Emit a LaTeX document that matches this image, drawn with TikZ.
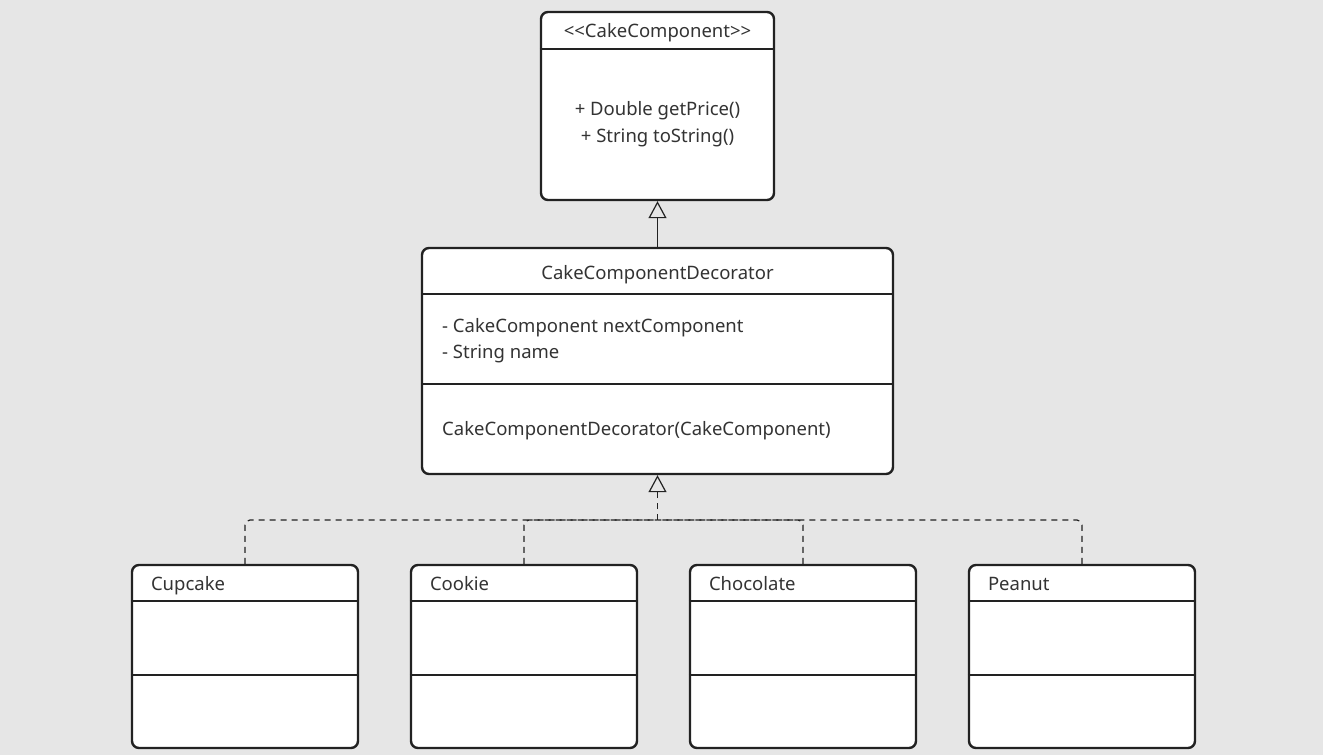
\documentclass[tikz,border=0pt]{standalone}
\usepackage{fontspec}
\setmainfont{Noto Sans}
\usetikzlibrary{arrows.meta}
\definecolor{bg}{HTML}{E6E6E6}
\definecolor{ink}{HTML}{222222}
\definecolor{txt}{HTML}{333333}
\tikzset{
  classbox/.style={draw=ink, fill=white, line width=2.4pt, rounded corners=7pt, inner sep=0pt},
  sepline/.style={draw=ink, line width=2.4pt},
  lbl/.style={text=txt, font=\fontsize{18.5}{27}\selectfont, inner sep=0pt},
  inherit/.style={draw=ink, line width=1.2pt, -{Triangle[open, length=17pt, width=18pt, line width=1.2pt]}},
  realize/.style={draw=ink, line width=1.2pt, dash pattern=on 6pt off 5pt, rounded corners=5pt},
}
\begin{document}
\begin{tikzpicture}[x=1pt, y=-1pt]
\fill[bg] (0,0) rectangle (1323,755);
\useasboundingbox (0,0) rectangle (1323,755);

% CakeComponent
\node[classbox, minimum width=233pt, minimum height=188pt] (comp) at (657.5,106) {};
\draw[sepline] (comp.west |- 0,49) -- (comp.east |- 0,49);
\node[lbl, anchor=base] (compname) at (657.5,37) {<{}<CakeComponent>{}>};
\node[lbl, anchor=base] (compop1) at (657.5,115) {+ Double getPrice()};
\node[lbl, anchor=base] (compop2) at (657.5,142) {+ String toString()};

% Decorator
\node[classbox, minimum width=471pt, minimum height=226pt] (dec) at (657.5,361) {};
\draw[sepline] (dec.west |- 0,294) -- (dec.east |- 0,294);
\draw[sepline] (dec.west |- 0,384) -- (dec.east |- 0,384);
\node[lbl, anchor=base] (decname) at (657.5,279) {CakeComponentDecorator};
\node[lbl, anchor=base west] (decattr1) at (442,332) {- CakeComponent nextComponent};
\node[lbl, anchor=base west] (decattr2) at (442,358) {- String name};
\node[lbl, anchor=base west] (decctor) at (442,435) {CakeComponentDecorator(CakeComponent)};

% Children
\foreach \nm/\cx/\txt in {cup/245/Cupcake, cook/524/Cookie, choc/803/Chocolate, pean/1082/Peanut}{
  \node[classbox, minimum width=226pt, minimum height=183pt] (\nm) at (\cx,656.5) {};
  \draw[sepline] (\nm.west |- 0,601) -- (\nm.east |- 0,601);
  \draw[sepline] (\nm.west |- 0,675) -- (\nm.east |- 0,675);
  \node[lbl, anchor=base west] (\nm lbl) at ([xshift=20pt]\nm.west |- 0,590) {\txt};
}

% Generalization
\draw[inherit] (dec.north) -- (comp.south);

% Realization
\coordinate (junc) at (657.5,520);
\foreach \nm in {cup, cook, choc, pean}{
  \draw[realize] (\nm.north) |- (junc);
}
\draw[draw=ink, line width=1.2pt, dash pattern=on 6pt off 5pt, -{Triangle[open, length=17pt, width=18pt, line width=1.2pt]}] (junc) -- (dec.south);
\end{tikzpicture}
\end{document}
